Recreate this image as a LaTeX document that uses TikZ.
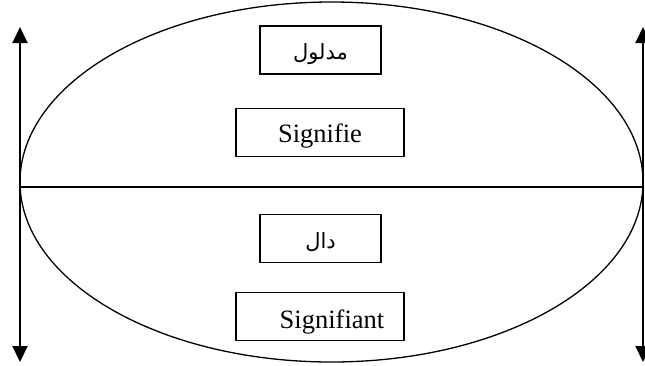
\documentclass[tikz,border=0pt]{standalone}
\usepackage{fontspec}
\setmainfont{Liberation Serif}
\newfontfamily\arabicfont[Script=Arabic]{DejaVu Sans}
\TeXXeTstate=1
\usetikzlibrary{arrows.meta}
\tikzset{
  box/.style={draw, line width=1.6pt, inner sep=0pt, minimum height=48pt},
  arbox/.style={box, minimum width=121pt, font=\arabicfont\fontsize{21}{24}\selectfont},
  latbox/.style={box, minimum width=168pt, font=\fontsize{26.5}{30}\selectfont},
  axis/.style={line width=2pt, {Triangle[length=16pt,width=15pt]}-{Triangle[length=16pt,width=15pt]}},
}
\begin{document}
\begin{tikzpicture}[x=1pt,y=-1pt]
\useasboundingbox (0,0) rectangle (645,365);
\draw[line width=1.3pt] (331.5,182) ellipse [x radius=311.5pt, y radius=180pt];
\coordinate (L) at (20,187);
\coordinate (R) at (643,187);
\coordinate (Lt) at (20,27);
\coordinate (Lb) at (20,362);
\coordinate (Rt) at (643,27);
\coordinate (Rb) at (643,362);
\draw[line width=1.8pt] (L) -- (R);
\draw[axis] (Lt) -- (Lb);
\draw[axis] (Rt) -- (Rb);
\node[arbox, text height=19pt, text depth=1pt] (madlul) at (320.5,50) {\beginR مدلول\endR};
\node[latbox, text height=22pt, text depth=1.6pt] (signifie) at (320,132.5) {Signifie};
\node[arbox, text height=20pt, text depth=1pt] (dal) at (320.5,238.5) {\beginR دال\endR};
\node[latbox, text height=24pt, text depth=1pt] (signifiant) at (320,316.5) {\hspace{24pt}Signifiant};
\end{tikzpicture}
\end{document}
